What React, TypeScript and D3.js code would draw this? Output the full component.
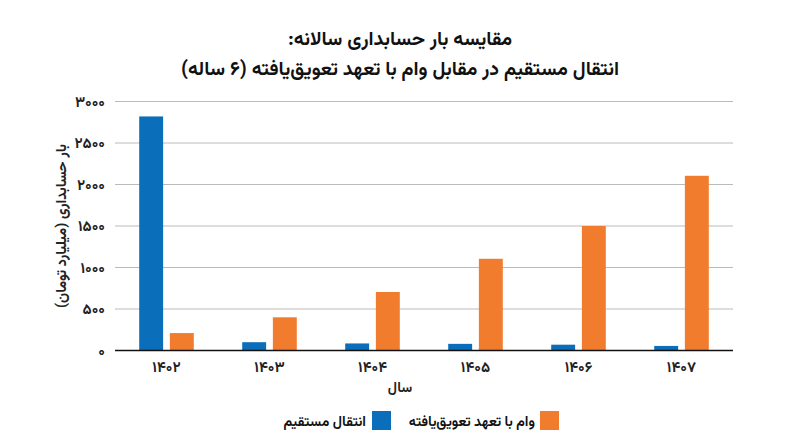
import React from "react";
import * as d3 from "d3";

const years = ["۱۴۰۲", "۱۴۰۳", "۱۴۰۴", "۱۴۰۵", "۱۴۰۶", "۱۴۰۷"];
const seriesKeys = ["direct", "loan"];
const seriesNames = ["انتقال مستقیم", "وام با تعهد تعویق‌یافته"];
const directValues = [2820, 100, 85, 80, 70, 55];
const loanValues = [210, 400, 705, 1105, 1500, 2105];
const yTickValues = [0, 500, 1000, 1500, 2000, 2500, 3000];
const yTickLabels = ["۰", "۵۰۰", "۱۰۰۰", "۱۵۰۰", "۲۰۰۰", "۲۵۰۰", "۳۰۰۰"];
const titleLines = [
  "مقایسه بار حسابداری سالانه:",
  "انتقال مستقیم در مقابل وام با تعهد تعویق‌یافته (۶ ساله)",
];
const yAxisTitle = "بار حسابداری (میلیارد تومان)";
const xAxisTitle = "سال";

const W = 800;
const H = 447;
const FONT = "Vazirmatn, Tahoma, 'DejaVu Sans', sans-serif";
const colors: Record<string, string> = { direct: "#0B6EBB", loan: "#F27C2D" };

export default function App() {
  const left = 115;
  const right = 733;
  const top = 101.5;
  const bottom = 350.5;

  const x0 = d3.scaleBand<string>().domain(years).range([left, right]).paddingInner(0.47).paddingOuter(0.235);
  const x1 = d3.scaleBand<string>().domain(seriesKeys).range([0, x0.bandwidth()]).paddingInner(0.22);
  const y = d3.scaleLinear().domain([0, 3000]).range([bottom, top]);

  const data = years.map((yr, i) => ({ year: yr, direct: directValues[i], loan: loanValues[i] }));

  return (
    <svg width={W} height={H} style={{ display: "block", position: "absolute", left: 0, top: 0 }} fontFamily={FONT}>
      <rect width={W} height={H} fill="#fff" />
      {titleLines.map((t, i) => (
        <text key={i} x={400} y={45 + i * 30} textAnchor="middle" fontSize={19.5} fontWeight="bold" fill="#111" direction="rtl">
          {t}
        </text>
      ))}
      {yTickValues.map((v, i) => (
        <g key={v}>
          {v !== 0 && <line x1={left} x2={right} y1={y(v)} y2={y(v)} stroke="#BBBBBB" strokeWidth={1.2} />}
          <text x={105} y={y(v)} dy="0.35em" textAnchor="end" fontSize={15} fontWeight="bold" fill="#222">
            {yTickLabels[i]}
          </text>
        </g>
      ))}
      {data.map((d) => (
        <g key={d.year} transform={`translate(${x0(d.year)},0)`}>
          {seriesKeys.map((k) => (
            <rect
              key={k}
              x={x1(k)}
              y={y((d as any)[k])}
              width={x1.bandwidth()}
              height={bottom - y((d as any)[k])}
              fill={colors[k]}
            />
          ))}
        </g>
      ))}
      <line x1={left} x2={right} y1={bottom} y2={bottom} stroke="#111" strokeWidth={1.5} />
      {years.map((yr) => (
        <text key={yr} x={(x0(yr) as number) + x0.bandwidth() / 2} y={372} textAnchor="middle" fontSize={15} fontWeight="bold" fill="#222">
          {yr}
        </text>
      ))}
      <text x={400} y={392} textAnchor="middle" fontSize={14} fontWeight="bold" fill="#222" direction="rtl">
        {xAxisTitle}
      </text>
      <text
        transform={`translate(61,226) rotate(-90)`}
        dy="0.35em"
        textAnchor="middle"
        fontSize={14.5}
        fontWeight="bold"
        fill="#222"
        direction="rtl"
      >
        {yAxisTitle}
      </text>
      {/* legend */}
      <rect x={540} y={411} width={19} height={19} fill={colors.loan} />
      <text x={535} y={421} dy="0.35em" textAnchor="start" direction="rtl" fontSize={14} fontWeight="bold" fill="#111">
        {seriesNames[1]}
      </text>
      <rect x={372} y={411} width={19} height={19} fill={colors.direct} />
      <text x={366} y={421} dy="0.35em" textAnchor="start" direction="rtl" fontSize={14} fontWeight="bold" fill="#111">
        {seriesNames[0]}
      </text>
    </svg>
  );
}
